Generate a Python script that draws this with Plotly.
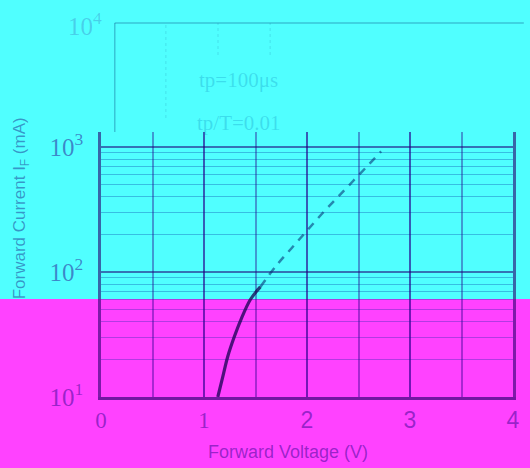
import plotly.graph_objects as go

# ---- data ----
solid_v = [1.134, 1.182, 1.230, 1.294, 1.357, 1.452, 1.547]
solid_i = [10, 14.5, 21, 30.3, 41.3, 60.5, 76]
dash_v = [1.547, 1.70, 1.85, 2.00, 2.15, 2.30, 2.45, 2.60, 2.72]
dash_i = [76, 112, 155, 214, 295, 398, 537, 724, 923]

x_tick_vals = [0, 1, 2, 3, 4]
x_tick_labels = ["0", "1", "2", "3", "4"]
x_serif_labels = ["0", "1"]
y_tick_vals = [10, 100, 1000]
y_tick_labels = ["10<sup>1</sup>", "10<sup>2</sup>", "10<sup>3</sup>"]
y_minor_vals = [20, 30, 40, 50, 60, 70, 80, 90, 200, 300, 400, 500, 600, 700, 800, 900]
top_label = "10<sup>4</sup>"
legend_texts = ["tp=100μs", "tp/T=0.01"]

CYAN = "#50FFFF"
MAGENTA = "#FF42FF"
INK = "rgba(40,0,140,0.48)"

x_ticktext = [
    f"<span style='font-family:Liberation Serif'>{t}</span>" if t in x_serif_labels else t
    for t in x_tick_labels
]

fig = go.Figure()
fig.add_trace(go.Scatter(x=solid_v, y=solid_i, mode="lines", line_shape="spline",
                         line=dict(color="rgba(20,0,80,0.75)", width=3.2), showlegend=False))
fig.add_trace(go.Scatter(x=dash_v, y=dash_i, mode="lines", line_shape="spline",
                         line=dict(color="rgba(0,40,110,0.55)", width=2.5, dash="8px,7px"),
                         showlegend=False))

# plot-area geometry helpers (pixels -> paper)
L, R, T, B = 101, 10, 132, 71
W, H = 530, 468
pw, ph = W - L - R, H - T - B
px = lambda x: (x - L) / pw
py = lambda y: (H - B - y) / ph

shapes = [
    # cyan upper band over magenta paper
    dict(type="rect", xref="paper", yref="paper", x0=-1, x1=2, y0=py(299), y1=3,
         fillcolor=CYAN, line=dict(width=0), layer="below"),
    # frame of the upper box
    dict(type="line", xref="paper", yref="paper", x0=px(115), x1=px(115), y0=py(132), y1=py(23),
         line=dict(color="rgba(0,60,120,0.3)", width=1.5)),
    dict(type="line", xref="paper", yref="paper", x0=px(115), x1=px(531), y0=py(23), y1=py(23),
         line=dict(color="rgba(0,60,120,0.3)", width=1.5)),
]
for xv, ybot in [(167, 118), (220, 55), (273, 55)]:
    shapes.append(dict(type="line", xref="paper", yref="paper", x0=px(xv), x1=px(xv),
                       y0=py(ybot), y1=py(23),
                       line=dict(color="rgba(0,60,120,0.15)", width=1, dash="dot")))

annotations = [
    dict(text=top_label, xref="paper", yref="paper", x=px(104), y=py(24), xanchor="right",
         yanchor="middle", showarrow=False,
         font=dict(family="Liberation Serif", size=25, color="rgba(40,0,140,0.2)")),
    dict(text=legend_texts[0], xref="paper", yref="paper", x=px(199), y=py(80), xanchor="left",
         yanchor="middle", showarrow=False,
         font=dict(family="Liberation Serif", size=21, color="rgba(0,120,180,0.25)")),
    dict(text=legend_texts[1], xref="paper", yref="paper", x=px(197), y=py(123), xanchor="left",
         yanchor="middle", showarrow=False,
         font=dict(family="Liberation Serif", size=21, color="rgba(0,120,180,0.25)")),
    dict(text="Forward Voltage (V)", xref="paper", yref="paper", x=px(291), y=py(452),
         xanchor="center", yanchor="middle", showarrow=False,
         font=dict(family="Liberation Sans", size=18, color=INK)),
    dict(text="Forward Current I<sub>F</sub> (mA)", xref="paper", yref="paper", x=px(20),
         y=py(208), xanchor="center", yanchor="middle", textangle=-90, showarrow=False,
         font=dict(family="Liberation Sans", size=17, color="rgba(20,0,120,0.42)")),
]

fig.update_layout(
    width=W, height=H,
    margin=dict(l=L, r=R, t=T, b=B, pad=0),
    paper_bgcolor=MAGENTA,
    plot_bgcolor="rgba(0,0,0,0)",
    shapes=shapes,
    annotations=annotations,
    showlegend=False,
)
fig.update_xaxes(
    range=[0, 4], tickvals=x_tick_vals, ticktext=x_ticktext,
    tickfont=dict(family="Liberation Sans", size=23, color=INK),
    showgrid=True, gridcolor="rgba(40,0,140,0.4)", gridwidth=1.5,
    minor=dict(dtick=0.5, showgrid=True, gridcolor="rgba(40,0,140,0.4)", gridwidth=1.5),
    showline=True, linecolor="rgba(40,0,110,0.65)", linewidth=3, mirror=False,
    zeroline=False, ticks="", ticklabelstandoff=0,
)
fig.update_yaxes(
    type="log", range=[1, 1 + ph / 125],
    tickvals=y_tick_vals, ticktext=y_tick_labels,
    tickfont=dict(family="Liberation Serif", size=25, color=INK),
    showgrid=True, gridcolor="rgba(30,0,120,0.55)", gridwidth=2,
    minor=dict(tickvals=y_minor_vals, showgrid=True, gridcolor="rgba(0,40,160,0.3)", gridwidth=1.2),
    showline=True, linecolor="rgba(40,0,110,0.6)", linewidth=2.5, mirror=True,
    zeroline=False, ticks="", ticklabelstandoff=10,
)

fig.write_html("out.html",
               config={"displayModeBar": False},
               post_script="document.body.style.margin='0';document.body.style.padding='0';")
